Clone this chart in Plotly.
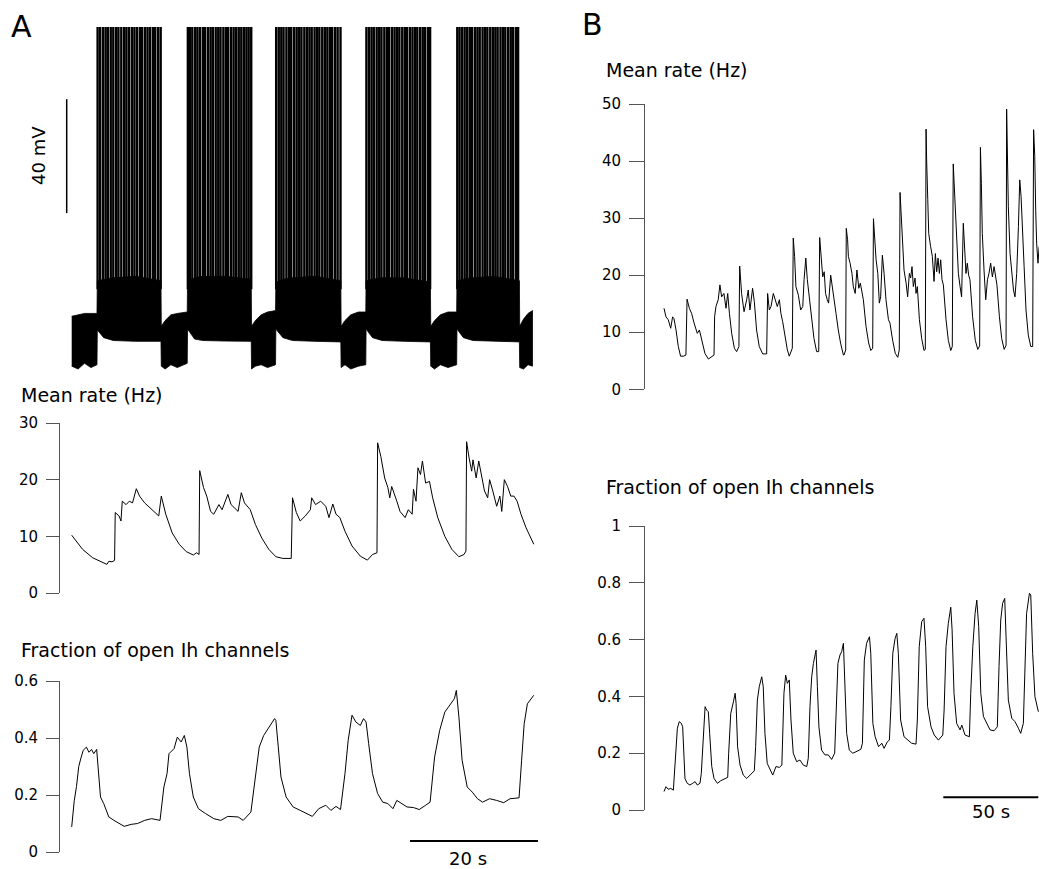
import plotly.graph_objects as go

# Page body margin is removed by a tiny post-script so the figure fills the
# 1039x869 window exactly; layout positions are given in window pixels.
OFF = 0
WIN_W, WIN_H = 1039, 869
W, H = WIN_W - OFF, WIN_H - OFF
FONT = "DejaVu Sans"
AXC = "#555555"

# ---------------- Panel A : membrane potential (mV) vs time (s) ----------------
vm_env_t = [0, 1, 2, 3, 3.95,
            4.0, 5.0, 6.5, 10.0, 13.95,
            14.0, 14.6, 15.5, 16.5, 18.05,
            18.1, 19.2, 20.5, 24.0, 28.05,
            28.1, 28.7, 29.6, 30.6, 31.85,
            31.9, 33.0, 34.5, 38.0, 42.05,
            42.1, 42.7, 43.6, 44.8, 45.95,
            46.0, 47.0, 48.5, 52.0, 56.05,
            56.1, 56.7, 57.6, 58.8, 60.15,
            60.2, 61.2, 62.7, 66.0, 69.95,
            70.0, 70.6, 71.3, 72.0]
vm_env_top = [-61.5, -61, -60.5, -60.5, -60.5,
              -49, -48.5, -48, -47.5, -49,
              -65, -63, -61, -60.5, -60,
              -49, -48, -47.5, -47.5, -48.5,
              -65, -63, -61, -60, -59.5,
              -49.5, -48.5, -48, -47.5, -49,
              -65, -63, -61, -60, -60,
              -49, -48.5, -48, -48, -49.5,
              -65, -63, -61, -60, -60,
              -49, -48.5, -48, -47.5, -49,
              -65, -62.5, -60.5, -59.5]
vm_env_bottom = [-79, -80, -78, -79.5, -78.5,
                 -66.3, -69, -70, -70.3, -70.3,
                 -79, -80, -78.5, -79.5, -78,
                 -66, -69.5, -70, -70.2, -70.3,
                 -80, -79, -78.5, -79.5, -78.5,
                 -66, -69, -70, -70.3, -70.5,
                 -79.5, -78.5, -80, -79, -78.5,
                 -66, -69, -70, -70.3, -70.5,
                 -79, -80, -78.5, -79.5, -78.5,
                 -66, -69, -70, -70.3, -70.5,
                 -79.5, -80, -78.5, -79]

spike_times = [
    4.05, 4.45, 4.9, 5.3, 5.65, 6.1, 6.5, 6.95, 7.3, 7.75, 8.2, 8.55, 8.95, 9.4,
    9.8, 10.2, 10.65, 11.0, 11.45, 11.85, 12.25, 12.7, 13.05, 13.5, 13.9,
    18.15, 18.5, 18.85, 19.3, 19.65, 20.05, 20.5, 20.85, 21.3, 21.7, 22.05, 22.5,
    22.9, 23.25, 23.7, 24.1, 24.45, 24.9, 25.3, 25.7, 26.1, 26.5, 26.9, 27.3, 27.65, 28.05,
    31.95, 32.35, 32.75, 33.1, 33.55, 33.95, 34.3, 34.75, 35.15, 35.55, 35.9, 36.35,
    36.75, 37.15, 37.5, 37.95, 38.35, 38.7, 39.15, 39.55, 39.95, 40.35, 40.7, 41.15, 41.55, 42.0,
    46.05, 46.45, 46.85, 47.2, 47.65, 48.05, 48.4, 48.85, 49.25, 49.6, 50.05, 50.45,
    50.85, 51.2, 51.65, 52.05, 52.4, 52.85, 53.25, 53.65, 54.0, 54.45, 54.85, 55.2, 55.65, 56.0,
    60.25, 60.6, 61.0, 61.4, 61.8, 62.2, 62.55, 63.0, 63.4, 63.75, 64.2, 64.6,
    64.95, 65.4, 65.8, 66.2, 66.55, 67.0, 67.4, 67.75, 68.2, 68.6, 68.95, 69.4, 69.75]
spike_base_mv = -52
spike_peak_mv = 40
vm_scale_mv = 40

# ---------------- Panel A : mean rate (Hz) ----------------
rate_a_t = [0, 1.7, 3.3, 5.0, 5.5, 5.8, 6.3, 6.7, 6.8, 7.4, 7.7, 7.9, 8.5, 9.0, 9.5, 10.1,
            10.6, 11.4, 12.2, 13.0, 13.6, 14.0, 14.7, 15.7, 16.8, 17.9, 19.0, 19.5, 19.9,
            20.0, 20.6, 21.1, 21.7, 22.2, 23.0, 23.5, 24.4, 24.9, 26.0, 26.5, 27.0, 27.9,
            28.7, 29.7, 30.8, 31.9, 33.0, 34.3, 34.5, 35.1, 35.7, 36.5, 37.3, 37.5, 38.1,
            38.9, 39.7, 40.2, 40.8, 41.3, 41.9, 42.7, 43.8, 45.1, 46.2, 47.0, 47.7, 47.8,
            48.3, 48.9, 49.4, 49.7, 50.0, 50.8, 51.3, 52.1, 52.6, 53.2, 53.4, 53.8, 54.1,
            54.5, 54.8, 55.3, 55.9, 56.4, 57.2, 58.3, 59.4, 60.5, 61.3, 61.6, 61.7, 62.1,
            62.5, 62.7, 63.2, 63.6, 64.0, 64.5, 65.0, 65.3, 65.8, 66.4, 66.9, 67.2, 67.6,
            68.1, 68.6, 69.1, 69.6, 70.2, 71.0, 72.2]
rate_a_hz = [10.2, 7.7, 6.2, 5.3, 5.05, 5.6, 5.5, 5.75, 14.2, 13.6, 12.7, 16.2, 15.6, 16.2,
             15.9, 18.4, 17.1, 15.9, 15.0, 14.2, 13.6, 17.1, 13.9, 10.6, 8.6, 7.3, 6.7, 7.1,
             6.8, 21.6, 18.6, 17.1, 14.4, 13.9, 15.6, 14.7, 17.4, 15.6, 14.4, 17.7, 15.9,
             14.7, 12.1, 9.7, 7.7, 6.4, 6.1, 6.1, 16.8, 14.2, 12.7, 13.6, 14.7, 16.8, 15.6,
             16.2, 15.3, 13.3, 15.7, 13.9, 13.3, 10.9, 8.3, 6.5, 5.8, 6.8, 7.1, 26.5, 24.1,
             20.3, 18.6, 16.8, 18.8, 16.2, 14.4, 13.3, 14.7, 13.9, 18.3, 16.2, 22.1, 20.9,
             23.3, 19.4, 19.7, 16.8, 13.3, 10.0, 7.7, 6.4, 6.8, 7.4, 26.7, 23.8, 21.5, 23.5,
             20.3, 23.3, 20.9, 18.0, 16.8, 20.0, 18.0, 15.3, 17.1, 14.4, 20.0, 18.8, 17.1,
             17.1, 16.2, 13.9, 11.5, 8.6]

# ---------------- Panel A : fraction of open Ih channels ----------------
ih_a_t = [0, 0.4, 0.75, 1.1, 1.45, 1.8, 2.3, 2.7, 3.1, 3.45, 3.9, 4.15, 4.5, 5.0, 5.8, 6.6,
          7.4, 8.2, 9.3, 10.3, 11.4, 12.5, 13.8, 14.4, 14.9, 15.2, 16.0, 16.5, 17.1, 17.6,
          18.0, 18.4, 19.0, 19.8, 20.9, 22.2, 23.3, 24.4, 26.0, 26.8, 28.0, 28.7, 29.3,
          30.0, 31.1, 31.7, 31.9, 32.2, 32.7, 33.5, 34.6, 35.7, 36.8, 37.6, 38.6, 39.7,
          40.5, 41.3, 42.0, 42.7, 43.2, 43.8, 44.4, 45.1, 45.6, 46.0, 46.4, 47.0, 47.8,
          48.6, 49.4, 50.2, 50.8, 51.6, 52.4, 53.4, 54.3, 55.3, 56.0, 56.7, 57.5, 58.3,
          59.1, 59.8, 60.1, 60.5, 61.0, 61.8, 62.6, 63.4, 64.2, 65.3, 66.4, 67.5, 68.5,
          69.9, 70.3, 70.7, 71.2, 71.8, 72.2]
ih_a_frac = [0.088, 0.18, 0.23, 0.30, 0.33, 0.357, 0.368, 0.35, 0.36, 0.345, 0.36, 0.275,
             0.193, 0.17, 0.123, 0.111, 0.10, 0.09, 0.097, 0.10, 0.111, 0.117, 0.111, 0.228,
             0.275, 0.345, 0.363, 0.403, 0.386, 0.409, 0.368, 0.275, 0.193, 0.152, 0.135,
             0.117, 0.111, 0.125, 0.123, 0.111, 0.14, 0.275, 0.368, 0.409, 0.45, 0.468,
             0.462, 0.392, 0.263, 0.193, 0.158, 0.146, 0.135, 0.125, 0.152, 0.164, 0.146,
             0.16, 0.149, 0.275, 0.392, 0.48, 0.456, 0.444, 0.468, 0.456, 0.38, 0.275,
             0.205, 0.175, 0.17, 0.152, 0.181, 0.17, 0.158, 0.156, 0.149, 0.164, 0.175,
             0.333, 0.427, 0.491, 0.515, 0.538, 0.567, 0.474, 0.322, 0.228, 0.21, 0.187,
             0.175, 0.187, 0.181, 0.173, 0.187, 0.19, 0.322, 0.45, 0.52, 0.538, 0.55]

# ---------------- Panel B : mean rate (Hz) ----------------
rate_b_t = [0.37, 1.4, 2.6, 3.9, 4.9, 5.6, 6.7, 7.9, 9.1, 10.5, 11.9, 12.5, 13.7, 14.9, 16.2,
            17.2, 17.9, 19.0, 20.2, 21.9, 23.7, 25.5, 26.7, 27.0, 27.7, 28.9, 29.8, 30.7,
            31.9, 33.0, 33.9, 34.8, 36.0, 37.4, 38.6, 39.8, 40.2, 41.2, 42.5, 43.9, 44.7,
            45.6, 47.0, 47.9, 49.1, 50.5, 52.3, 54.4, 54.9, 55.8, 56.7, 57.9, 58.8, 60.0,
            61.1, 61.9, 62.8, 64.0, 65.3, 66.3, 67.0, 67.9, 68.4, 69.1, 69.8, 71.1, 72.3,
            73.4, 74.1, 75.0, 75.8, 76.9, 78.1, 79.3, 80.7, 81.8, 82.3, 83.0, 83.9, 84.7,
            85.4, 86.3, 87.0, 88.1, 89.5, 90.9, 92.1, 93.3, 94.8, 95.1, 96.0, 96.3, 97.0,
            97.4, 98.3, 99.3, 100.0, 101.0, 101.9, 102.9, 103.7, 104.6, 105.3, 106.7, 108.1,
            109.2, 110.2, 110.6, 111.3, 112.0, 112.9, 113.7, 114.4, 115.3, 116.2, 117.2,
            118.5, 119.3, 120.7, 122.1, 123.4, 124.2, 124.6, 125.1, 126.0, 126.7, 127.8,
            128.6, 129.5, 130.2, 130.9, 131.6, 132.5, 133.0, 133.7, 134.8, 136.0, 137.2,
            137.9, 138.3, 138.6, 139.2, 139.7, 140.7, 141.6, 142.5, 143.2, 143.9, 144.6,
            145.3, 146.0, 146.7, 147.4, 148.8, 150.0, 151.3, 152.1, 152.6, 153.2, 153.9,
            154.4, 155.3, 156.2, 157.0, 157.9, 158.6, 159.3, 160.0, 160.7, 161.4, 162.8,
            164.2, 165.5, 166.5, 166.9, 167.4, 167.9, 168.8, 169.7, 170.6, 171.4, 172.3,
            173.2, 174.1, 175.0, 175.6, 176.9, 178.1, 179.4, 180.4, 180.7, 181.1, 181.6,
            182.5, 183.4, 184.3, 185.1, 186.0, 186.9, 187.6, 188.3, 189.0, 189.9, 190.9,
            192.1, 193.4, 194.4, 194.9, 195.5, 196.0, 196.5, 197.2, 197.8]
rate_b_hz = [14.2, 12.7, 12.2, 10.7, 12.7, 12.4, 10.4, 7.5, 5.8, 5.8, 6.0, 15.8, 14.2, 13.3,
             11.6, 10.4, 9.8, 10.4, 8.6, 6.3, 5.3, 5.7, 6.0, 12.7, 14.5, 15.7, 18.3, 16.2,
             16.8, 14.2, 16.8, 13.3, 9.8, 7.2, 6.6, 7.5, 21.6, 16.8, 13.6, 15.7, 17.4, 13.9,
             17.7, 15.4, 10.4, 7.5, 6.2, 6.2, 16.8, 13.9, 14.5, 16.8, 15.7, 14.5, 15.7, 13.3,
             11.9, 9.2, 6.9, 5.8, 6.6, 7.2, 26.5, 23.3, 18.0, 16.5, 13.9, 14.5, 19.2, 23.0,
             19.2, 15.7, 11.6, 8.9, 6.6, 6.6, 26.6, 22.7, 19.7, 20.6, 16.8, 15.7, 15.1, 20.0,
             16.2, 13.3, 10.4, 8.1, 6.0, 6.0, 6.9, 28.2, 26.2, 23.3, 22.1, 20.3, 18.0, 16.8,
             20.9, 17.7, 18.6, 17.1, 15.7, 11.0, 8.1, 6.8, 7.2, 29.9, 26.2, 22.7, 20.3, 15.1,
             16.2, 23.5, 20.3, 15.7, 12.2, 11.6, 8.6, 6.3, 5.6, 6.9, 34.5, 30.9, 26.2, 20.9,
             18.6, 16.2, 20.3, 19.5, 21.5, 18.0, 19.5, 16.8, 18.0, 12.2, 8.9, 6.8, 7.0, 45.6,
             40.2, 33.2, 27.3, 25.0, 23.3, 18.9, 23.8, 20.6, 23.0, 20.3, 22.7, 19.2, 18.3,
             12.2, 8.6, 6.8, 7.5, 39.5, 35.5, 29.1, 25.6, 20.3, 18.0, 16.2, 29.1, 25.0, 20.3,
             22.1, 20.0, 19.2, 12.7, 8.6, 7.0, 7.6, 42.4, 36.1, 27.3, 20.9, 15.7, 19.2, 20.3,
             22.1, 19.7, 21.5, 19.7, 18.3, 12.7, 8.9, 7.0, 7.7, 49.1, 39.0, 32.0, 23.8, 20.3,
             17.4, 16.2, 20.3, 28.5, 36.7, 33.8, 27.3, 21.5, 13.9, 9.5, 7.5, 7.5, 45.5, 40.8,
             31.4, 25.6, 22.1, 25.0]

# ---------------- Panel B : fraction of open Ih channels ----------------
ih_b_t = [0.37, 1.4, 2.6, 3.9, 5.3, 5.8, 6.7, 7.4, 8.4, 9.5, 10.2, 10.7, 11.4, 12.6, 14.0,
          15.5, 16.7, 17.9, 19.3, 20.0, 21.1, 22.0, 22.8, 23.7, 24.4, 25.5, 26.7, 28.5,
          30.2, 32.5, 33.9, 34.4, 35.5, 36.9, 37.8, 38.3, 39.1, 40.4, 42.1, 43.9, 46.0,
          47.9, 48.6, 49.5, 50.5, 51.8, 52.6, 53.5, 54.7, 56.1, 57.6, 59.3, 61.1, 62.4,
          62.9, 63.5, 64.4, 65.3, 66.3, 67.2, 68.4, 70.2, 71.9, 73.7, 75.5, 76.3, 77.2,
          78.1, 79.0, 80.4, 81.1, 81.9, 83.3, 85.1, 86.8, 88.6, 90.2, 90.9, 91.9, 93.0,
          93.9, 94.8, 95.3, 96.5, 97.9, 99.7, 101.4, 104.0, 104.8, 105.8, 107.0, 108.5,
          109.2, 110.3, 111.5, 113.3, 115.0, 116.2, 118.0, 119.0, 119.8, 120.8, 122.0,
          122.9, 123.7, 124.9, 126.7, 128.5, 130.7, 133.0, 133.7, 134.7, 136.0, 137.2,
          138.1, 139.1, 140.9, 142.6, 144.8, 147.1, 147.8, 148.8, 150.0, 151.3, 152.0,
          153.0, 154.4, 156.2, 157.1, 158.8, 161.1, 161.8, 162.9, 164.1, 165.0, 166.0,
          167.1, 168.5, 170.2, 172.0, 174.1, 175.8, 176.7, 177.6, 178.6, 179.7, 180.4,
          181.6, 183.4, 185.1, 186.9, 188.1, 189.5, 190.2, 191.2, 192.7, 193.4, 194.4,
          195.6, 197.4]
ih_b_frac = [0.065, 0.082, 0.073, 0.076, 0.070, 0.129, 0.223, 0.288, 0.311, 0.305, 0.293,
             0.20, 0.111, 0.094, 0.088, 0.094, 0.10, 0.088, 0.094, 0.129, 0.27, 0.364,
             0.352, 0.346, 0.27, 0.153, 0.111, 0.094, 0.103, 0.111, 0.115, 0.20, 0.340,
             0.381, 0.411, 0.376, 0.223, 0.158, 0.123, 0.111, 0.127, 0.138, 0.223, 0.387,
             0.434, 0.469, 0.434, 0.27, 0.164, 0.141, 0.123, 0.153, 0.150, 0.158, 0.27,
             0.411, 0.475, 0.446, 0.458, 0.317, 0.20, 0.170, 0.176, 0.158, 0.153, 0.182,
             0.364, 0.469, 0.516, 0.563, 0.434, 0.293, 0.211, 0.194, 0.194, 0.178, 0.20,
             0.317, 0.516, 0.546, 0.558, 0.587, 0.493, 0.27, 0.211, 0.20, 0.205, 0.214,
             0.235, 0.528, 0.587, 0.610, 0.552, 0.305, 0.258, 0.223, 0.235, 0.217, 0.241,
             0.246, 0.364, 0.552, 0.604, 0.622, 0.552, 0.317, 0.258, 0.246, 0.235, 0.232,
             0.317, 0.575, 0.663, 0.675, 0.575, 0.364, 0.293, 0.264, 0.246, 0.264, 0.352,
             0.575, 0.657, 0.714, 0.634, 0.411, 0.305, 0.282, 0.299, 0.264, 0.258, 0.411,
             0.575, 0.692, 0.739, 0.646, 0.411, 0.329, 0.305, 0.282, 0.279, 0.293, 0.505,
             0.669, 0.728, 0.745, 0.610, 0.387, 0.323, 0.311, 0.288, 0.270, 0.305, 0.458,
             0.692, 0.763, 0.757, 0.552, 0.399, 0.346]

scale_a_s = 20
scale_b_s = 50


# ---------------- helpers (layout only, window pixel -> paper) ----------------
def px(x):
    return (x - OFF) / W


def py(y):
    return 1 - (y - OFF) / H


def xd(x0, x1):
    return [max(0, px(x0)), min(1, px(x1))]


def yd(y_top, y_bot):
    return [py(y_bot), py(y_top)]


# time mapping panel A: t=0 at x=71.7 px, 6.4 px/s ; panel B: t=0 at 663.3 px, 1.9 px/s
A_X0, A_PPS = 71.7, 6.4
B_X0, B_PPS = 663.3, 1.9
a_range = [(60 - A_X0) / A_PPS, (540 - A_X0) / A_PPS]
b_range = [(645 - B_X0) / B_PPS, (WIN_W - B_X0) / B_PPS]
# voltage mapping: +40 mV at y=27 px, 2.85 px/mV
vm_range = [40 - (380 - 27) / 2.85, 40 + (27 - 20) / 2.85]

fig = go.Figure()
line = dict(color="black", width=1)

# membrane potential envelope
fig.add_trace(go.Scatter(x=vm_env_t + vm_env_t[::-1], y=vm_env_top + vm_env_bottom[::-1],
                         fill="toself", fillcolor="black", mode="lines",
                         line=dict(color="black", width=0.8), xaxis="x", yaxis="y",
                         hoverinfo="skip"))
sx, sy = [], []
for t in spike_times:
    sx += [t, t, None]
    sy += [spike_base_mv, spike_peak_mv, None]
fig.add_trace(go.Scatter(x=sx, y=sy, mode="lines", line=dict(color="black", width=2.4),
                         xaxis="x", yaxis="y", hoverinfo="skip"))
# 40 mV scale bar
t_bar = (66.7 - A_X0) / A_PPS
fig.add_trace(go.Scatter(x=[t_bar, t_bar], y=[-25.3, -25.3 + vm_scale_mv], mode="lines",
                         line=dict(color="black", width=1.5), xaxis="x", yaxis="y"))

fig.add_trace(go.Scatter(x=rate_a_t, y=rate_a_hz, mode="lines", line=line, xaxis="x2", yaxis="y2"))
fig.add_trace(go.Scatter(x=ih_a_t, y=ih_a_frac, mode="lines", line=line, xaxis="x3", yaxis="y3"))
bar_a_end = (538 - A_X0) / A_PPS
fig.add_trace(go.Scatter(x=[bar_a_end - scale_a_s, bar_a_end], y=[0.0386, 0.0386], mode="lines",
                         line=dict(color="black", width=2), xaxis="x3", yaxis="y3"))

fig.add_trace(go.Scatter(x=rate_b_t, y=rate_b_hz, mode="lines", line=line, xaxis="x4", yaxis="y4"))
fig.add_trace(go.Scatter(x=ih_b_t, y=ih_b_frac, mode="lines", line=line, xaxis="x5", yaxis="y5"))
bar_b_start = (943.3 - B_X0) / B_PPS
fig.add_trace(go.Scatter(x=[bar_b_start, bar_b_start + scale_b_s], y=[0.0447, 0.0447], mode="lines",
                         line=dict(color="black", width=2), xaxis="x5", yaxis="y5"))

hidden_x = dict(visible=False, showgrid=False, zeroline=False)
tickfont = dict(family=FONT, size=15, color="black")


def yax(dom, rng, vals, text, tlen):
    return dict(domain=dom, range=rng, tickmode="array", tickvals=vals, ticktext=text,
                ticks="outside", ticklen=tlen, tickcolor=AXC, tickwidth=1,
                showline=True, linecolor=AXC, linewidth=1, showgrid=False, zeroline=False,
                tickfont=tickfont, ticklabelstandoff=5, fixedrange=True)


fig.update_layout(
    width=W, height=H, margin=dict(l=0, r=0, t=0, b=0, autoexpand=False),
    paper_bgcolor="white", plot_bgcolor="white", showlegend=False, hovermode=False,
    xaxis=dict(domain=xd(60, 540), range=a_range, anchor="y", **hidden_x),
    yaxis=dict(domain=yd(20, 380), range=vm_range, anchor="x", visible=False),
    xaxis2=dict(domain=xd(60, 540), range=a_range, anchor="y2", **hidden_x),
    yaxis2=dict(anchor="x2", **yax(yd(423, 593), [0, 30], [0, 10, 20, 30],
                                   ["0", "10", "20", "30"], 13)),
    xaxis3=dict(domain=xd(60, 540), range=a_range, anchor="y3", **hidden_x),
    yaxis3=dict(anchor="x3", **yax(yd(681, 852), [0, 0.6], [0, 0.2, 0.4, 0.6],
                                   ["0", "0.2", "0.4", "0.6"], 13)),
    xaxis4=dict(domain=xd(645, WIN_W), range=b_range, anchor="y4", **hidden_x),
    yaxis4=dict(anchor="x4", **yax(yd(104, 389.3), [0, 50], [0, 10, 20, 30, 40, 50],
                                   ["0", "10", "20", "30", "40", "50"], 15)),
    xaxis5=dict(domain=xd(645, WIN_W), range=b_range, anchor="y5", **hidden_x),
    yaxis5=dict(anchor="x5", **yax(yd(526, 810), [0, 1], [0, 0.2, 0.4, 0.6, 0.8, 1],
                                   ["0", "0.2", "0.4", "0.6", "0.8", "1"], 15)),
)

ann = []


def add_text(text, x, y, size, xanchor="left", angle=0):
    ann.append(dict(text=text, x=px(x), y=py(y), xref="paper", yref="paper",
                    xanchor=xanchor, yanchor="middle", showarrow=False, textangle=angle,
                    font=dict(family=FONT, size=size, color="black")))


add_text("A", 9, 26, 30)
add_text("B", 580, 25, 30)
add_text("40 mV", 39, 156, 18, xanchor="center", angle=-90)
add_text("Mean rate (Hz)", 19, 395, 19)
add_text("Fraction of open Ih channels", 19, 650, 19)
add_text("Mean rate (Hz)", 604, 70, 19)
add_text("Fraction of open Ih channels", 604, 487, 19)
add_text("20 s", 468, 858, 18, xanchor="center")
add_text("50 s", 991, 811, 18, xanchor="center")
fig.update_layout(annotations=ann)

fig.write_html("out.html",
               config={"displayModeBar": False, "staticPlot": True},
               post_script="document.body.style.margin='0';"
                           "document.body.style.overflow='hidden';")
